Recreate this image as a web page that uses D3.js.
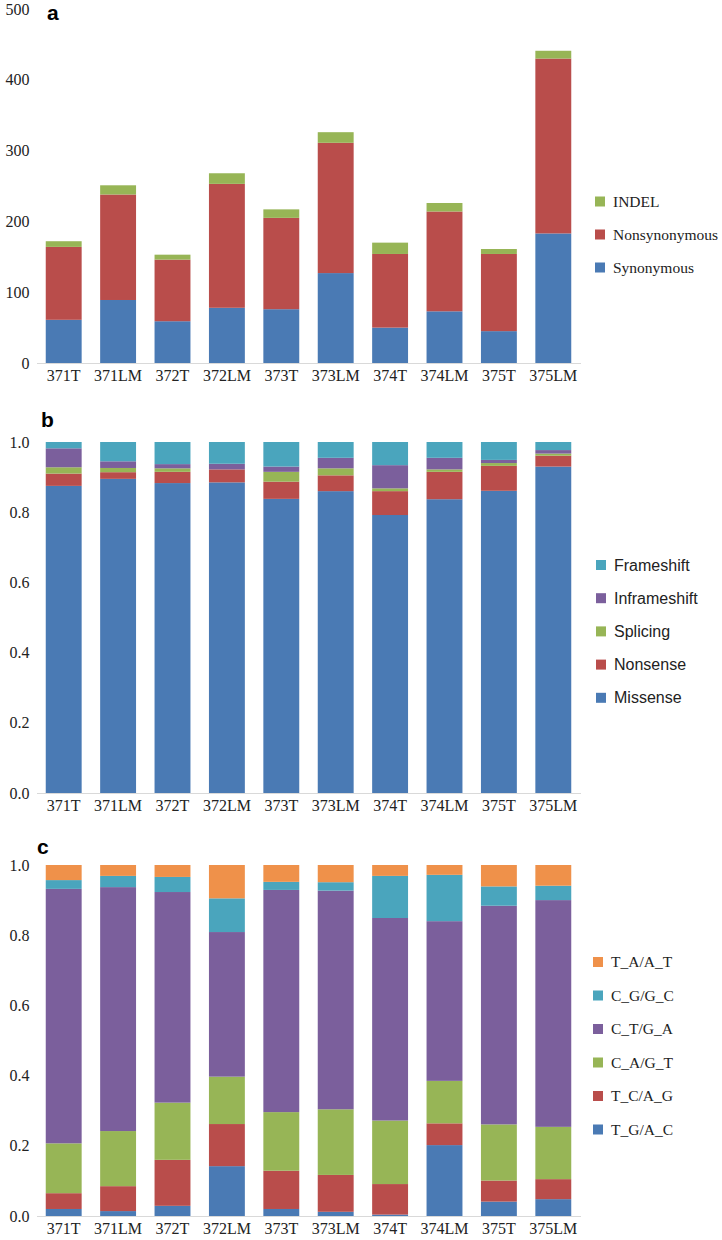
<!DOCTYPE html>
<html>
<head>
<meta charset="utf-8">
<script src="https://cdn.jsdelivr.net/npm/d3@7"></script>
<style>
  html, body { margin: 0; padding: 0; background: #fff; }
  svg { display: block; }
</style>
</head>
<body>
<svg id="chart" width="722" height="1240"></svg>
<script>
// ---------------- data ----------------
const samples = ["371T","371LM","372T","372LM","373T","373LM","374T","374LM","375T","375LM"];

// panel a (counts)
const seriesA = ["Synonymous","Nonsynonymous","INDEL"];
const synonymous    = [61, 89, 59, 78, 76, 127, 50, 73, 45, 183];
const nonsynonymous = [103, 149, 87, 175, 129, 184, 104, 141, 109, 247];
const indel         = [8, 13, 7, 15, 12, 15, 16, 12, 7, 11];
const ticksA = [0, 100, 200, 300, 400, 500];

// panel b (proportions)
const seriesB = ["Missense","Nonsense","Splicing","Inframeshift","Frameshift"];
const missense     = [0.875, 0.895, 0.883, 0.885, 0.838, 0.860, 0.792, 0.837, 0.861, 0.930];
const nonsense     = [0.035, 0.019, 0.032, 0.037, 0.049, 0.045, 0.068, 0.078, 0.071, 0.031];
const splicing     = [0.018, 0.012, 0.010, 0.000, 0.028, 0.020, 0.008, 0.007, 0.008, 0.006];
const inframeshift = [0.054, 0.019, 0.012, 0.016, 0.015, 0.030, 0.066, 0.033, 0.009, 0.010];
const frameshift   = [0.018, 0.055, 0.063, 0.062, 0.070, 0.045, 0.066, 0.045, 0.051, 0.023];

// panel c (proportions)
const seriesC = ["T_G/A_C","T_C/A_G","C_A/G_T","C_T/G_A","C_G/G_C","T_A/A_T"];
const tgac = [0.020, 0.014, 0.029, 0.142, 0.020, 0.012, 0.004, 0.202, 0.041, 0.048];
const tcag = [0.045, 0.071, 0.131, 0.120, 0.109, 0.105, 0.087, 0.062, 0.060, 0.057];
const cagt = [0.142, 0.157, 0.163, 0.135, 0.167, 0.187, 0.181, 0.121, 0.160, 0.149];
const ctga = [0.725, 0.695, 0.600, 0.412, 0.633, 0.623, 0.577, 0.455, 0.623, 0.646];
const cggc = [0.025, 0.032, 0.043, 0.096, 0.023, 0.024, 0.120, 0.132, 0.055, 0.041];
const taat = [0.043, 0.031, 0.034, 0.095, 0.048, 0.049, 0.031, 0.028, 0.061, 0.059];
const ticksP = [0, 0.2, 0.4, 0.6, 0.8, 1.0];

// ---------------- styling ----------------
const cBlue = "#4a7ab4", cRed = "#b94d4b", cGreen = "#97b556",
      cPurple = "#7b5f9c", cCyan = "#4aa5bd", cOrange = "#ef914a";
const serif = "'Liberation Serif', 'DejaVu Serif', serif";
const sans = "'Liberation Sans', Arial, sans-serif";

const svg = d3.select("#chart");
const x = d3.scaleBand().domain(samples).range([36.5, 580.5])
  .paddingInner(0.34).paddingOuter(0.17);

function buildRows(keys, arrays) {
  return samples.map((s, i) => {
    const r = { sample: s };
    keys.forEach((k, j) => r[k] = arrays[j][i]);
    return r;
  });
}

function panel(opts) {
  const { keys, arrays, colors, y, ticks, fmt, letter, legend } = opts;
  const g = svg.append("g");
  const rows = buildRows(keys, arrays);
  const stacked = d3.stack().keys(keys)(rows);
  const color = d3.scaleOrdinal().domain(keys).range(colors);

  g.selectAll("g.layer").data(stacked).join("g")
    .attr("class", "layer")
    .attr("fill", d => color(d.key))
    .selectAll("rect").data(d => d).join("rect")
      .attr("x", d => x(d.data.sample))
      .attr("width", x.bandwidth())
      .attr("y", d => y(d[1]))
      .attr("height", d => Math.max(0, y(d[0]) - y(d[1])));

  // y axis
  const ya = g.append("g").attr("transform", `translate(${x.range()[0]},0)`)
    .call(d3.axisLeft(y).tickValues(ticks).tickFormat(fmt).tickSize(0).tickPadding(7));
  ya.select(".domain").remove();
  ya.selectAll("text").attr("font-family", serif).attr("font-size", 16).attr("fill", "#222");

  // x axis
  const xa = g.append("g").attr("transform", `translate(0,${y(0)})`)
    .call(d3.axisBottom(x).tickSize(0).tickPadding(7));
  xa.select(".domain").attr("stroke", "#d9d9d9").attr("stroke-width", 1);
  xa.selectAll("text").attr("font-family", serif).attr("font-size", 16).attr("fill", "#222");

  // panel letter
  g.append("text").attr("x", letter.x).attr("y", letter.y)
    .attr("font-family", sans).attr("font-weight", "bold").attr("font-size", 21)
    .attr("fill", "#000").text(letter.t);

  // legend
  const lg = g.append("g");
  legend.items.forEach((k, i) => {
    const cy = legend.y0 + i * legend.dy;
    lg.append("rect").attr("x", legend.x).attr("y", cy - 5).attr("width", 10).attr("height", 10)
      .attr("fill", color(k));
    lg.append("text").attr("x", legend.x + 18).attr("y", cy).attr("dy", "0.35em")
      .attr("font-family", legend.font).attr("font-size", legend.size).attr("fill", "#222").text(k);
  });
}

panel({
  keys: seriesA, arrays: [synonymous, nonsynonymous, indel],
  colors: [cBlue, cRed, cGreen],
  y: d3.scaleLinear().domain([0, 500]).range([363, 9]),
  ticks: ticksA, fmt: d3.format("d"),
  letter: { t: "a", x: 47, y: 20 },
  legend: { items: ["INDEL","Nonsynonymous","Synonymous"], x: 595, y0: 201.5, dy: 33, font: serif, size: 15.5 }
});

panel({
  keys: seriesB, arrays: [missense, nonsense, splicing, inframeshift, frameshift],
  colors: [cBlue, cRed, cGreen, cPurple, cCyan],
  y: d3.scaleLinear().domain([0, 1]).range([793, 442]),
  ticks: ticksP, fmt: d3.format(".1f"),
  letter: { t: "b", x: 41, y: 427 },
  legend: { items: ["Frameshift","Inframeshift","Splicing","Nonsense","Missense"], x: 596, y0: 565, dy: 33.2, font: sans, size: 16 }
});

panel({
  keys: seriesC, arrays: [tgac, tcag, cagt, ctga, cggc, taat],
  colors: [cBlue, cRed, cGreen, cPurple, cCyan, cOrange],
  y: d3.scaleLinear().domain([0, 1]).range([1216, 865]),
  ticks: ticksP, fmt: d3.format(".1f"),
  letter: { t: "c", x: 37, y: 854 },
  legend: { items: ["T_A/A_T","C_G/G_C","C_T/G_A","C_A/G_T","T_C/A_G","T_G/A_C"], x: 593, y0: 962, dy: 33.5, font: serif, size: 15.5 }
});
</script>
</body>
</html>
